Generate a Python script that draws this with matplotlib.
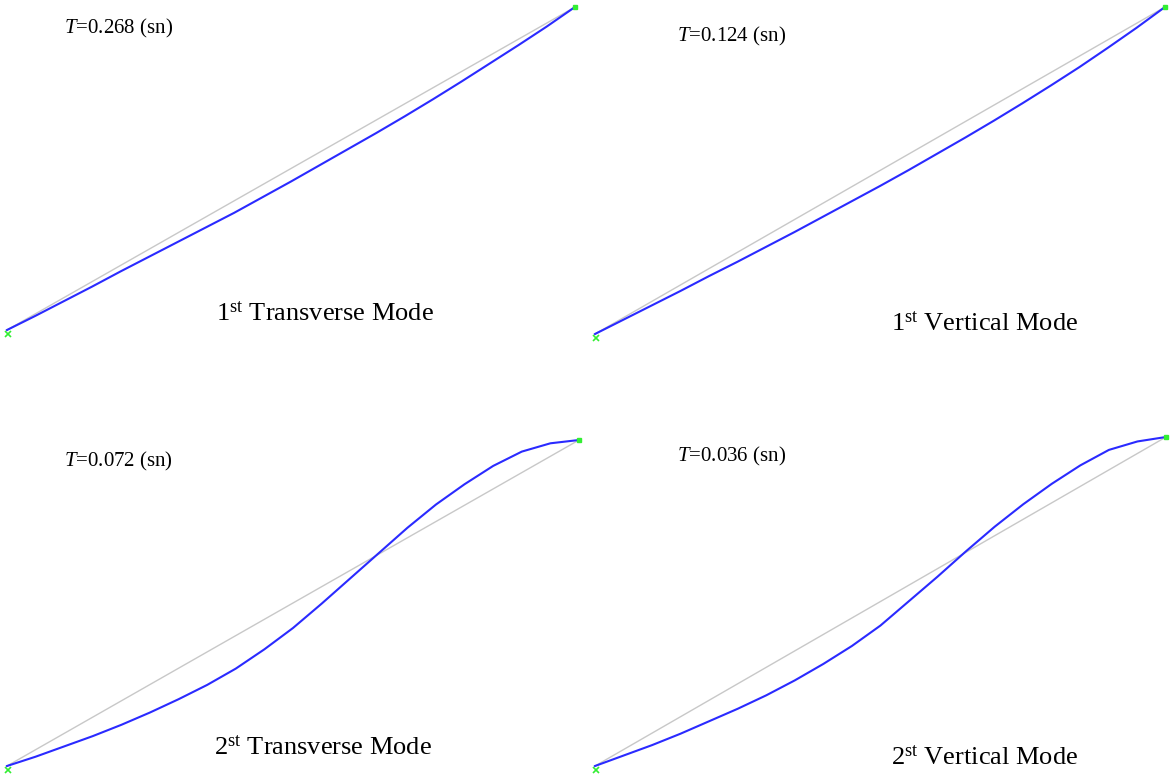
import matplotlib.pyplot as plt
import numpy as np

plt.rcParams['mathtext.fontset'] = 'custom'
plt.rcParams['mathtext.rm'] = 'Liberation Serif'
plt.rcParams['mathtext.it'] = 'Liberation Serif:italic'

# mode data
mode_names = ['1$^{\\rm st}$ Transverse Mode', '1$^{\\rm st}$ Vertical Mode',
              '2$^{\\rm st}$ Transverse Mode', '2$^{\\rm st}$ Vertical Mode']
periods = [0.268, 0.124, 0.072, 0.036]

# stations along the member (0 = lower support, 1 = upper support)
stations = [0, .05, .1, .15, .2, .25, .3, .35, .4, .45, .5,
            .55, .6, .65, .7, .75, .8, .85, .9, .95, 1]
# mode shape offsets from the undeformed member (px, + = downward on screen)
shape_1T = [0, 2, 3.5, 5, 6, 7.5, 9, 10.5, 12, 12.5, 13, 13, 13, 13, 12.5, 11.5, 10, 8, 6, 3.5, 0]
shape_1V = [0, 2, 4, 6, 7.5, 9.5, 11, 12.5, 13.5, 14.5, 15.5, 16, 16, 16, 15.5, 14.5, 13, 11, 8, 4.5, 0]
shape_2T = [0, 7, 13, 19, 24, 28, 31, 33, 33, 30, 25, 17, 8, -1, -10, -17, -21, -23, -21, -13, 0]
shape_2V = [0, 6, 12, 17, 21, 25, 28, 29.5, 29.5, 28, 24, 16, 8, -1, -9, -15, -19, -21, -20, -12, 0]
shapes = [shape_1T, shape_1V, shape_2T, shape_2V]

# layout: member end points (px), period label pos, mode label pos
ends = [((7, 330), (575, 7)), ((595, 334), (1165, 7)),
        ((7, 766), (579, 440)), ((595, 766), (1166, 437))]
period_pos = [(64, 28), (677, 36), (64, 461), (677, 456)]
label_pos = [(325, 314), (985, 324), (323, 748), (985, 758)]

fig = plt.figure(figsize=(11.71, 7.78), dpi=100)
ax = fig.add_axes([0, 0, 1, 1])
ax.set_xlim(0, 1171)
ax.set_ylim(778, 0)
ax.axis('off')

s = np.array(stations)
for i in range(4):
    (x0, y0), (x1, y1) = ends[i]
    x = x0 + s * (x1 - x0)
    y = y0 + s * (y1 - y0)
    ax.plot([x0, x1], [y0, y1], color='#c8c8c8', lw=1.0)
    ax.plot(x, y + np.array(shapes[i]), color='#2a2aff', lw=1.5,
            solid_joinstyle='round')
    # supports
    ax.plot(x0 + 1, y0 + 4, marker='x', color='#33ee33', ms=5, mew=1.2)
    ax.plot(x1, y1, marker='s', color='#33ee33', ms=3)
    ax.text(*period_pos[i], '$T$=%.3f (sn)' % periods[i], fontsize=15,
            family='Liberation Serif', ha='left', va='center')
    ax.text(*label_pos[i], mode_names[i], fontsize=19,
            family='Liberation Serif', ha='center', va='center')

fig.savefig('out.png', dpi=100)
